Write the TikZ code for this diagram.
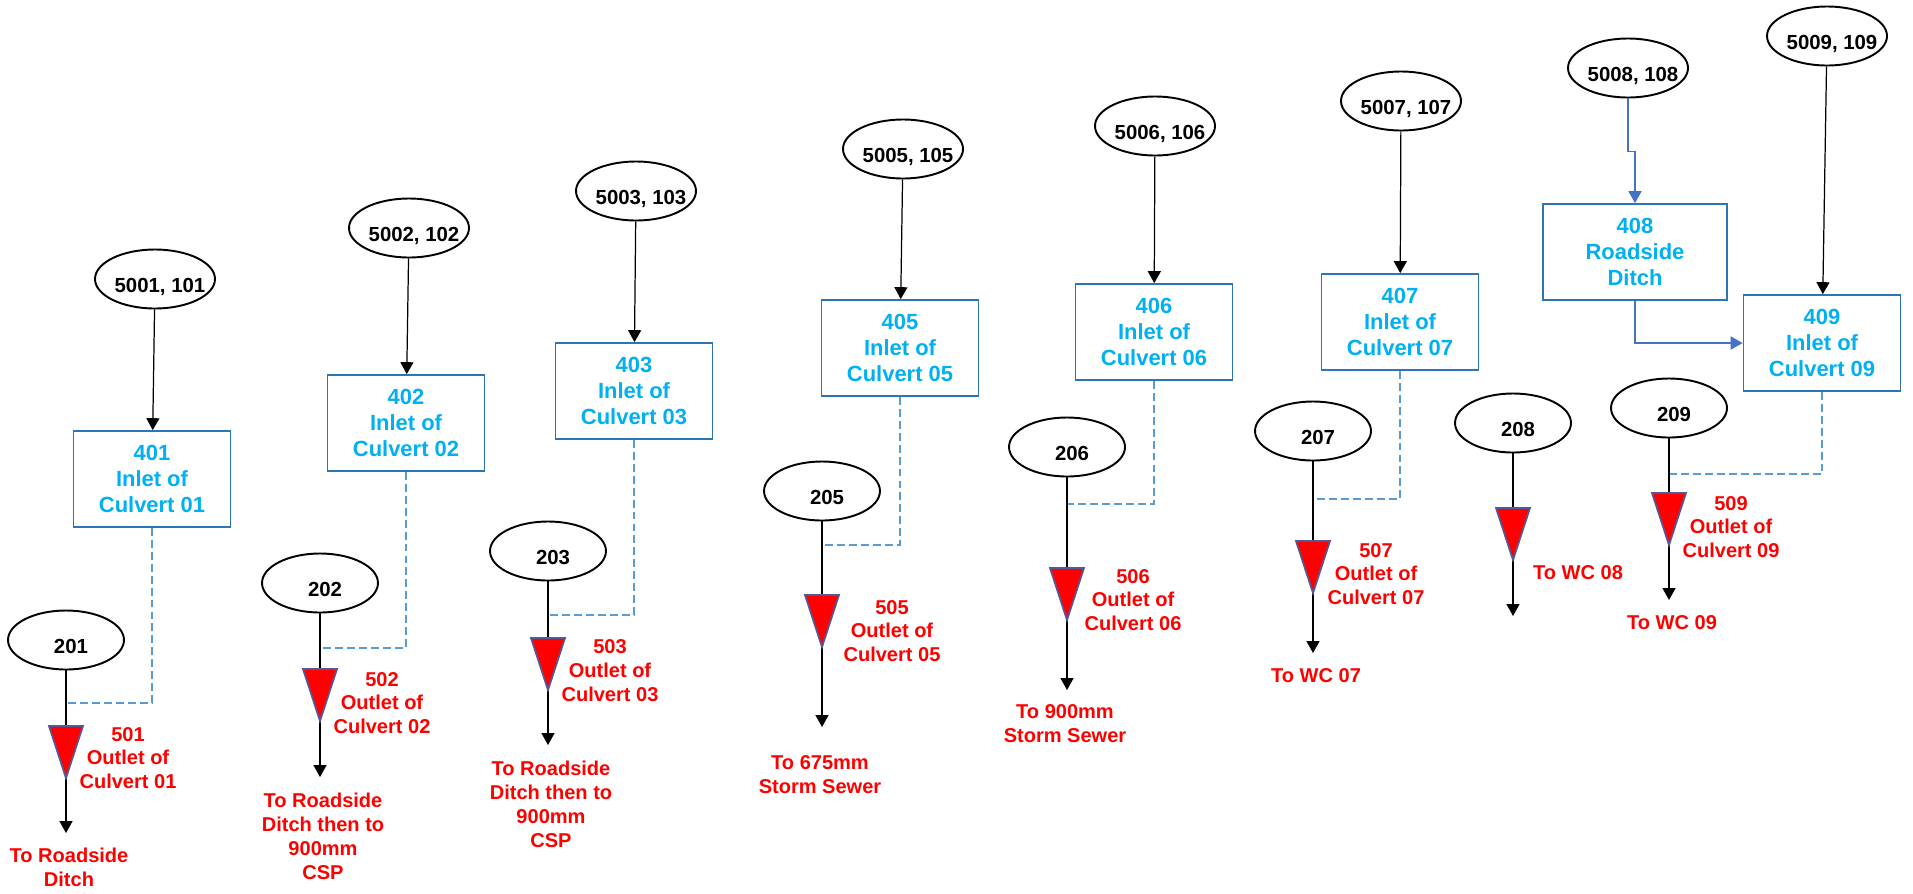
\documentclass[tikz,border=0pt]{standalone}
\usepackage{fontspec}
\setmainfont{Liberation Sans}
\usetikzlibrary{shapes.geometric,arrows.meta}
\definecolor{boxblue}{RGB}{46,117,182}
\definecolor{inletcyan}{RGB}{0,176,240}
\definecolor{dashblue}{RGB}{91,155,213}
\definecolor{feedblue}{RGB}{68,114,196}
\definecolor{outletedge}{RGB}{84,88,150}
\newcommand{\ovalfont}{\bfseries\fontsize{11.6}{13.6}\selectfont}
\newcommand{\boxfont}{\bfseries\fontsize{12.5}{14.8}\selectfont}
\newcommand{\redfont}{\bfseries\fontsize{11.4}{13.6}\selectfont}

\begin{document}
\begin{tikzpicture}[x=0.02cm,y=-0.02cm,
  oval/.style={ellipse,draw,line width=1.1pt,minimum width=2.32cm,minimum height=1.18cm,inner xsep=-4.5pt,inner ysep=0pt,
    text height=0.55cm,text depth=0cm,execute at begin node=\hspace*{0.2cm},font=\ovalfont},
  inlet/.style={draw=boxblue,line width=1pt,text=inletcyan,minimum width=3.14cm,minimum height=1.92cm,align=center,font=\boxfont},
  redtext/.style={text=red,align=center,font=\redfont},
  flow/.style={line width=0.7pt,-{Triangle[length=6.8pt,width=7.4pt]}},
  pipe/.style={line width=0.7pt},
  link/.style={draw=dashblue,line width=0.9pt,dash pattern=on 4.5pt off 2.3pt},
  outlet/.style={fill=red,draw=outletedge,line width=1pt},
  feed/.style={draw=feedblue,line width=0.8pt,-{Triangle[length=6.8pt,width=7.4pt]}}]
 \useasboundingbox (0,0) rectangle (1913,893);

 % culverts with inlet box and outlet
 \foreach \n/\ux/\uy/\bx/\by/\lx/\ly/\dy/\tri/\tip/\ox/\oy/\sx/\sy/\sink in {
   1/155/279/152/479/66/640/703/726/833/128/758/69/867/{To Roadside\\Ditch},
   2/409/228/406/423/320/583/648/669/777/382/703/323/836/{To Roadside\\Ditch then to\\900mm\\CSP},
   3/636/191/634/391/548/551/615/638/745/610/671/551/804/{To Roadside\\Ditch then to\\900mm\\CSP},
   5/903/149/900/348/822/491/545/595/727/892/631/820/775/{To 675mm\\Storm Sewer},
   6/1155/126/1154/332/1067/447/504/568/690/1133/600/1065/724/{To 900mm\\Storm Sewer},
   7/1401/101/1400/322/1313/431/499/541/653/1376/574/1316/676/{To WC 07},
   9/1827/36/1822/343/1669/408/474/493/600/1731/527/1672/623/{To WC 09}}
  {\node [oval] (u\n) at (\ux,\uy) {500\n, 10\n};
   \node [inlet] (b\n) at (\bx,\by) {40\n\\Inlet of\\Culvert 0\n};
   \node [oval] (l\n) at (\lx,\ly) {20\n};
   \coordinate (j\n) at (\lx,\dy);
   \coordinate (t\n) at (\lx,\tri);
   \coordinate (v\n) at (\lx,\tri+52);
   \coordinate (w\n) at (\lx,\tip);
   \draw [flow] (u\n) -- (b\n);
   \draw [link] (b\n.south) |- (j\n);
   \draw [pipe] (l\n) -- (t\n);
   \draw [flow] (v\n) -- (w\n);
   \draw [outlet] (t\n) ++(-17,0) -- ++(34,0) -- ++(-17,52) -- cycle;
   \node [redtext] (o\n) at (\ox,\oy) {50\n\\Outlet of\\Culvert 0\n};
   \node [redtext] (s\n) at (\sx,\sy) {\sink};}

 % roadside ditch feeding culvert 09
 \node [oval] (u8) at (1628,68) {5008, 108};
 \node [inlet,minimum width=3.68cm] (b8) at (1635,252) {408\\Roadside\\Ditch};
 \draw [feed] (u8.south) -- ++(0,53) -| (b8.north);
 \draw [feed] (b8.south) |- (b9.west);

 \node [oval] (l8) at (1513,423) {208};
 \coordinate (t8) at (1513,508);
 \coordinate (v8) at (1513,560);
 \coordinate (w8) at (1513,616);
 \draw [pipe] (l8) -- (t8);
 \draw [flow] (v8) -- (w8);
 \draw [outlet] (t8) ++(-17,0) -- ++(34,0) -- ++(-17,52) -- cycle;
 \node [redtext] (s8) at (1578,573) {To WC 08};
\end{tikzpicture}
\end{document}
